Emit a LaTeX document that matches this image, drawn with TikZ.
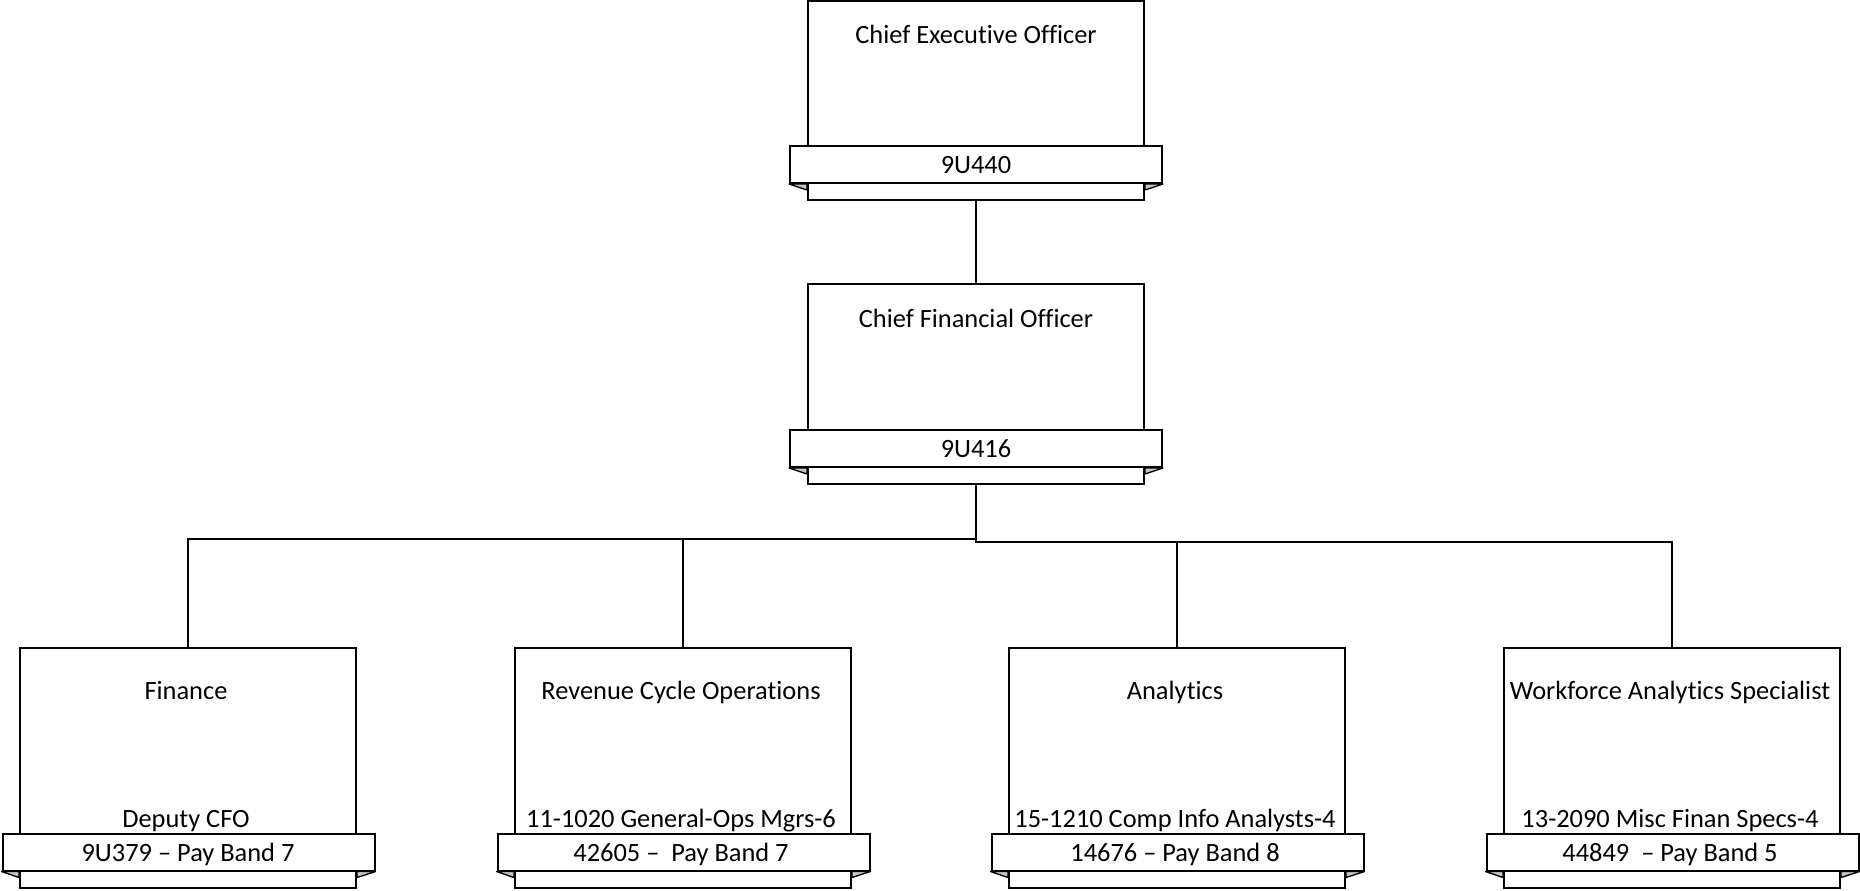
\documentclass[tikz,border=0pt]{standalone}
\usepackage{fontspec}
\setmainfont[Ligatures={NoCommon,NoRare,NoContextual}]{Carlito}
\begin{document}
\begin{tikzpicture}[x=0.75pt,y=-0.75pt,line width=1.5pt,
  box/.style={draw,fill=white,minimum width=252pt,minimum height=#1,inner sep=0pt},
  banner/.style={draw,fill=white,minimum width=279pt,minimum height=27.75pt,inner sep=0pt},
  txt/.style={anchor=base,inner sep=0pt,font=\fontsize{19.8}{24}\selectfont},
  fold/.style={draw,fill=gray!45,line width=1pt,line join=round},
  link/.style={draw,line width=1.5pt}]
\useasboundingbox (0,0) rectangle (1860,890);

% top boxes
\node[box=149.25pt] (ceo) at (976,100.5) {};
\node[box=150pt] (cfo) at (976,384) {};
% bottom boxes
\node[box=180pt] (fin) at (188,768) {};
\node[box=180pt] (rev) at (683,768) {};
\node[box=180pt] (ana) at (1177,768) {};
\node[box=180pt] (wf) at (1672,768) {};

% connectors
\coordinate (jl) at (976,539);
\coordinate (jr) at (976,542);
\draw[link] (ceo.south) -- (cfo.north);
\draw[link] (cfo.south) -- (jr) -| (wf.north);
\draw[link] (jr) -| (ana.north);
\draw[link] (fin.north) |- (jl);
\draw[link] (rev.north) |- (jl);

% banners
\node[banner] (ceob) at (976,164.5) {};
\node[banner] (cfob) at (976,448.5) {};
\node[banner] (finb) at (188.5,852) {};
\node[banner] (revb) at (683.5,852) {};
\node[banner] (anab) at (1177.5,852) {};
\node[banner] (wfb) at (1672.5,852) {};

% folds
\foreach \b/\r in {ceob/ceo,cfob/cfo,finb/fin,revb/rev,anab/ana,wfb/wf}{
  \draw[fold] (\b.south west) -- (\b.south west -| \r.west) -- ++(0,6) -- cycle;
  \draw[fold] (\b.south east) -- (\b.south east -| \r.east) -- ++(0,6) -- cycle;
}

% texts
\node[txt] (ceot) at (976,43) {Chief Executive Officer};
\node[txt] (ceoc) at (976,173) {9U440};
\node[txt] (cfot) at (976,327) {Chief Financial Officer};
\node[txt] (cfoc) at (976,457) {9U416};

\node[txt] (fint) at (186,699) {Finance};
\node[txt] (fins) at (186,827) {Deputy CFO};
\node[txt] (finc) at (188,861) {9U379 – Pay Band 7};

\node[txt] (revt) at (681,699) {Revenue Cycle Operations};
\node[txt] (revs) at (681,827) {11-1020 General-Ops Mgrs-6};
\node[txt] (revc) at (681,861) {42605 –\ \ Pay Band 7};

\node[txt] (anat) at (1175,699) {Analytics};
\node[txt] (anas) at (1175,827) {15-1210 Comp Info Analysts-4};
\node[txt] (anac) at (1175,861) {14676 – Pay Band 8};

\node[txt] (wft) at (1670,699) {Workforce Analytics Specialist};
\node[txt] (wfs) at (1670,827) {13-2090 Misc Finan Specs-4};
\node[txt] (wfc) at (1670,861) {44849\ \ – Pay Band 5};
\end{tikzpicture}
\end{document}
